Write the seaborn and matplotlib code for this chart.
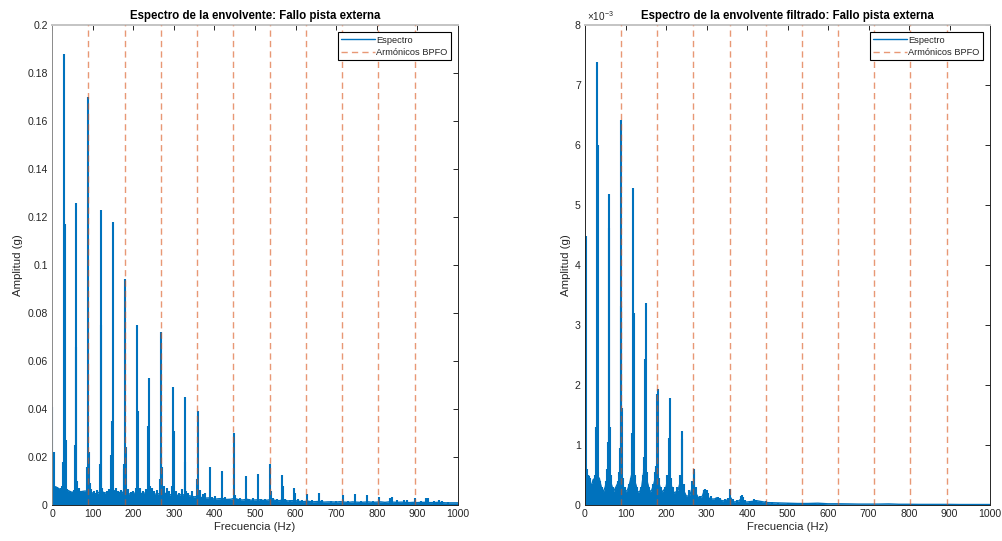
import numpy as np
import pandas as pd
import matplotlib
matplotlib.use("Agg")
import matplotlib.pyplot as plt
from matplotlib.ticker import FuncFormatter, MultipleLocator
import seaborn as sns

# ---------------------------------------------------------------
# Data
# ---------------------------------------------------------------
# BPFO harmonics (Hz)
bpfo_hz = [89.3, 178.6, 267.9, 357.2, 446.5, 535.8, 625.1, 714.4, 803.7, 893.0]

# Raw envelope spectrum: discrete spectral lines (Hz, g)
raw_peak_hz = [0.3, 0.8, 4.5, 8.0, 12.0,
               25.0, 28.0, 29.9, 31.7, 33.5,
               57.5, 58.6, 59.8, 62.0,
               86.5, 89.6, 91.5, 93.0,
               117.5, 119.5, 120.8, 122.5,
               146.5, 147.6, 149.3, 152.0,
               177.5, 178.3, 179.8, 181.2,
               206.0, 209.0, 210.6,
               237.4, 238.9, 241.0,
               266.0, 268.0, 269.4, 270.6,
               296.0, 298.6, 300.2,
               326.5, 328.4, 331.0,
               356.6, 358.8,
               388.2, 418.0, 447.8, 450.0, 477.6, 507.4, 537.3, 538.8,
               567.2, 568.6, 597.0, 599.0,
               627.0, 656.8, 686.5, 716.4, 746.2, 776.0, 806.0,
               833.0, 838.0, 866.0, 893.5, 921.0, 926.0, 952.0, 960.0]
raw_peak_g = [0.016, 0.041, 0.022, 0.0075, 0.0075,
              0.008, 0.018, 0.188, 0.117, 0.027,
              0.025, 0.066, 0.126, 0.010,
              0.016, 0.170, 0.022, 0.009,
              0.017, 0.123, 0.075, 0.007,
              0.021, 0.035, 0.118, 0.006,
              0.015, 0.017, 0.094, 0.024,
              0.007, 0.075, 0.039,
              0.033, 0.053, 0.008,
              0.011, 0.023, 0.072, 0.016,
              0.008, 0.049, 0.031,
              0.018, 0.045, 0.006,
              0.011, 0.039,
              0.016, 0.014, 0.030, 0.004, 0.012, 0.013, 0.017, 0.006,
              0.0125, 0.008, 0.007, 0.005,
              0.0045, 0.0048, 0.0015, 0.0042, 0.0045, 0.004, 0.0035,
              0.003, 0.0035, 0.002, 0.003, 0.003, 0.003, 0.002, 0.0015]

# Small lines sticking out of the raw noise floor (Hz, g)
raw_minor_hz = [15, 21, 38, 45, 53, 66, 72, 78, 97, 104, 112, 127, 135, 141,
                157, 163, 171, 187, 195, 200, 217, 224, 232, 246, 252, 259,
                276, 283, 289, 306, 313, 320, 336, 344, 365, 372, 378, 395,
                402, 425, 433, 455, 463, 486, 494, 515, 525, 545, 555, 575,
                585, 606, 615, 640, 666, 700, 730, 760, 790, 850, 875, 910,
                940, 975]
raw_minor_g = [0.0068, 0.0072, 0.0066, 0.006, 0.0062, 0.0072, 0.006, 0.0055,
               0.0068, 0.006, 0.0062, 0.0055, 0.006, 0.0068, 0.0072, 0.006,
               0.0062, 0.0068, 0.0055, 0.006, 0.0072, 0.006, 0.0068, 0.0072,
               0.006, 0.0062, 0.0078, 0.0072, 0.0058, 0.006, 0.005, 0.0065,
               0.005, 0.0058, 0.0062, 0.0045, 0.0052, 0.0032, 0.0036, 0.0032,
               0.0027, 0.0027, 0.0031, 0.0027, 0.0029, 0.0024, 0.0026,
               0.0029, 0.0024, 0.0026, 0.0022, 0.0026, 0.0021, 0.0019,
               0.0019, 0.0017, 0.0018, 0.0016, 0.0017, 0.0019, 0.0019,
               0.0016, 0.0015, 0.0013]

# Raw noise floor level every 10 Hz from 0 to 1000 Hz (g)
raw_floor_hz = np.arange(0, 1001, 10)
raw_floor_g = [0.008, 0.0075, 0.0065, 0.0058, 0.006, 0.0052, 0.0065, 0.0055, 0.0058, 0.0058,
               0.005, 0.0046, 0.0058, 0.005, 0.0052, 0.0062, 0.0055, 0.005, 0.0058, 0.0046,
               0.0048, 0.0052, 0.0048, 0.005, 0.0052, 0.0046, 0.0045, 0.0052, 0.0048, 0.0042,
               0.0046, 0.004, 0.0044, 0.004, 0.0038, 0.0034, 0.0036, 0.003, 0.0029, 0.003,
               0.0024, 0.0026, 0.0027, 0.0023, 0.0024, 0.0028, 0.0022, 0.0021, 0.0024, 0.002,
               0.0021, 0.0022, 0.0019, 0.002, 0.0023, 0.0019, 0.0018, 0.0022, 0.0017, 0.0018,
               0.0018, 0.0015, 0.0014, 0.0016, 0.0013, 0.0014, 0.0015, 0.0012, 0.0013, 0.0013,
               0.0012, 0.0014, 0.0012, 0.0011, 0.0013, 0.0012, 0.0011, 0.0012, 0.0013, 0.0011,
               0.0012, 0.0013, 0.0011, 0.0013, 0.0012, 0.0011, 0.0012, 0.0011, 0.001, 0.0011,
               0.001, 0.0011, 0.0011, 0.001, 0.001, 0.0011, 0.001, 0.0009, 0.0009, 0.0009,
               0.0009]

# Filtered envelope spectrum: discrete spectral lines (Hz, units of 1e-3 g)
filt_peak_hz = [0.3, 1.5, 8.0, 10.5,
                26.0, 29.6, 31.2, 35.0,
                56.5, 59.3, 60.4, 62.0,
                87.0, 88.6, 89.6, 91.2,
                117.2, 119.4, 121.0,
                146.0, 148.5, 149.6,
                176.0, 178.5, 179.6,
                205.0, 207.6, 209.1,
                236.5, 239.0, 240.5,
                265.0, 268.0, 270.0,
                297.0, 301.0,
                328.5, 358.3, 387.0, 389.0, 418.0, 447.8, 477.6, 509.0, 540.0, 569.0]
filt_peak_mg = [0.75, 4.48, 0.5, 0.48,
                1.3, 7.38, 6.0, 0.45,
                1.05, 4.62, 5.18, 1.3,
                0.95, 3.32, 6.42, 1.62,
                1.2, 5.28, 3.2,
                0.6, 2.43, 3.37,
                0.6, 1.85, 1.94,
                0.45, 1.12, 1.79,
                0.4, 1.23, 1.1,
                0.2, 0.55, 0.6,
                0.26, 0.25,
                0.13, 0.27, 0.16, 0.14, 0.10, 0.06, 0.04, 0.03, 0.03, 0.035]

# Small lines on the skirts of the filtered spectrum (Hz, 1e-3 g)
filt_minor_hz = [4, 12, 18, 22, 25, 33, 38, 43, 52, 55, 64, 68, 77, 82, 85,
                 94, 98, 108, 113, 115, 124, 128, 138, 143, 145, 153, 158,
                 168, 173, 175, 183, 188, 198, 203, 212, 218, 228, 234, 244,
                 258, 263, 274, 283, 293, 295, 304, 312, 324, 334, 346, 354,
                 366, 376, 384, 396, 408, 422, 433, 462, 500]
filt_minor_mg = [0.6, 0.45, 0.35, 0.42, 0.5, 0.55, 0.4, 0.3, 0.4, 0.6, 0.5,
                 0.3, 0.3, 0.4, 0.55, 0.45, 0.3, 0.35, 0.45, 0.7, 0.5, 0.3,
                 0.3, 0.5, 0.8, 0.55, 0.3, 0.35, 0.55, 0.65, 0.45, 0.3, 0.3,
                 0.5, 0.45, 0.3, 0.3, 0.5, 0.35, 0.25, 0.4, 0.3, 0.15, 0.25,
                 0.25, 0.2, 0.15, 0.12, 0.12, 0.1, 0.12, 0.1, 0.08, 0.15,
                 0.08, 0.06, 0.09, 0.05, 0.05, 0.04]

# Filtered noise floor: every 5 Hz up to 395 Hz, then every 25 Hz (1e-3 g)
filt_floor_hz = np.concatenate([np.arange(0, 400, 5), np.arange(400, 1001, 25)])
filt_floor_mg = [0.5, 0.45, 0.48, 0.3, 0.42, 0.45, 0.45, 0.45, 0.3, 0.22,
                 0.3, 0.45, 0.45, 0.35, 0.22, 0.28, 0.35, 0.4, 0.42, 0.3,
                 0.22, 0.25, 0.35, 0.5, 0.45, 0.35, 0.22, 0.22, 0.3, 0.55,
                 0.5, 0.35, 0.22, 0.25, 0.35, 0.5, 0.45, 0.3, 0.22, 0.25,
                 0.3, 0.45, 0.4, 0.28, 0.2, 0.22, 0.25, 0.38, 0.35, 0.22,
                 0.15, 0.15, 0.18, 0.3, 0.3, 0.18, 0.12, 0.12, 0.15, 0.25,
                 0.22, 0.12, 0.1, 0.1, 0.1, 0.12, 0.1, 0.08, 0.07, 0.07,
                 0.08, 0.1, 0.12, 0.06, 0.05, 0.06, 0.07, 0.1, 0.08, 0.05,
                 0.05, 0.07, 0.04, 0.035, 0.03, 0.025, 0.025, 0.03, 0.02, 0.02,
                 0.018, 0.015, 0.015, 0.015, 0.018, 0.012, 0.012, 0.01, 0.01, 0.01,
                 0.01, 0.008, 0.008, 0.008, 0.008]

# ---------------------------------------------------------------
# Style
# ---------------------------------------------------------------
sns.set_style("white")
plt.rcParams["font.family"] = ["Liberation Sans", "DejaVu Sans"]
plt.rcParams["mathtext.fontset"] = "custom"
plt.rcParams["mathtext.rm"] = "Liberation Sans"
plt.rcParams["mathtext.it"] = "Liberation Sans:italic"

SPEC = "#0072BD"
HARM = "#D95319"
AXC = "#262626"

fig = plt.figure(figsize=(10.02, 5.41), dpi=100)
W, H = 1002.0, 541.0
ax1 = fig.add_axes([52 / W, (H - 505) / H, 406 / W, 480 / H])
ax2 = fig.add_axes([585 / W, (H - 505) / H, 405 / W, 480 / H])


def draw_spectrum(ax, floor_hz, floor_v, lines_hz, lines_v):
    floor_df = pd.DataFrame({"f": floor_hz, "a": floor_v})
    ax.fill_between(floor_df["f"], 0, floor_df["a"], color=SPEC, lw=0, zorder=2)
    sns.lineplot(data=floor_df, x="f", y="a", ax=ax, color=SPEC, lw=1.0,
                 label="Espectro", zorder=2)
    ax.vlines(lines_hz, 0, lines_v, color=SPEC, lw=1.5, zorder=2)


def draw_harmonics(ax):
    for i, f in enumerate(bpfo_hz):
        ax.axvline(f, color=HARM, alpha=0.6, lw=1.0, ls=(0, (4.5, 3.0)),
                   label="Armónicos BPFO" if i == 0 else None, zorder=3)


def style_axes(ax, title, ylim, ystep, fmt, left_color):
    ax.set_xlim(0, 1000)
    ax.set_ylim(*ylim)
    ax.xaxis.set_major_locator(MultipleLocator(100))
    ax.yaxis.set_major_locator(MultipleLocator(ystep))
    ax.yaxis.set_major_formatter(FuncFormatter(fmt))
    ax.tick_params(direction="in", length=3.6, width=0.7, colors=AXC,
                   labelsize=7.6, top=True, right=True, pad=3)
    for name, s in ax.spines.items():
        s.set_color(AXC)
        s.set_linewidth(0.7)
    ax.spines["top"].set_color("#c4c4c4")
    ax.spines["top"].set_linewidth(1.4)
    ax.spines["left"].set_color(left_color)
    ax.set_title(title, fontsize=8.3, fontweight="bold", color="black", pad=4)
    ax.set_xlabel("Frecuencia (Hz)", fontsize=8.2, color=AXC, labelpad=2)
    ax.set_ylabel("Amplitud (g)", fontsize=8.2, color=AXC, labelpad=3)
    leg = ax.legend(loc="upper right", fontsize=6.7, frameon=True, fancybox=False,
                    framealpha=1, edgecolor="black", handlelength=3.6,
                    handletextpad=0.15, borderaxespad=0.8, borderpad=0.35,
                    labelspacing=0.35)
    leg.get_frame().set_linewidth(0.8)


draw_spectrum(ax1, raw_floor_hz, raw_floor_g,
              raw_peak_hz + raw_minor_hz, raw_peak_g + raw_minor_g)
draw_harmonics(ax1)
style_axes(ax1, "Espectro de la envolvente: Fallo pista externa", (0, 0.2), 0.02,
           lambda v, p: "0" if abs(v) < 1e-12 else f"{v:.2f}".rstrip("0"),
           "#8a8a8a")

draw_spectrum(ax2, filt_floor_hz, filt_floor_mg,
              filt_peak_hz + filt_minor_hz, filt_peak_mg + filt_minor_mg)
draw_harmonics(ax2)
style_axes(ax2, "Espectro de la envolvente filtrado: Fallo pista externa", (0, 8), 1,
           lambda v, p: f"{v:g}", AXC)
ax2.text(0.005, 1.004, r"$\times10^{-3}$", transform=ax2.transAxes,
         fontsize=7.2, color=AXC, ha="left", va="bottom")

fig.savefig("out.png", dpi=100)
